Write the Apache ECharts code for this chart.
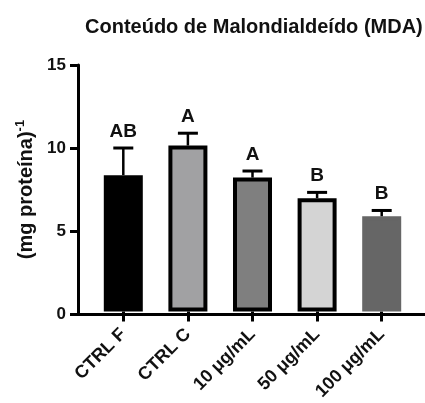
<!DOCTYPE html>
<html>
<head>
<meta charset="utf-8">
<script src="https://cdn.jsdelivr.net/npm/echarts@6/dist/echarts.min.js"></script>
<style>
html,body{margin:0;padding:0;background:#fff;}
#chart{width:425px;height:403px;}
</style>
</head>
<body>
<div id="chart"></div>
<script>
const categories = ['CTRL F', 'CTRL C', '10 \u03bcg/mL', '50 \u03bcg/mL', '100 \u03bcg/mL'];
const means = [8.3, 10.1, 8.15, 6.9, 5.8];
const errors = [1.65, 0.75, 0.4, 0.35, 0.35];
const letters = ['AB', 'A', 'A', 'B', 'B'];
const yTicks = [0, 5, 10, 15];

const fillColors = ['#000000', '#a1a1a3', '#7f7f7f', '#d4d4d4', '#666666'];
const borderColors = ['#000000', '#000000', '#000000', '#000000', '#666666'];
const FONT = 'Liberation Sans, Arial, sans-serif';

const chart = echarts.init(document.getElementById('chart'), null, {renderer: 'canvas'});

const option = {
  animation: false,
  backgroundColor: '#ffffff',
  title: {
    text: 'Conteúdo de Malondialdeído (MDA)',
    left: 80,
    top: 12,
    textStyle: {fontFamily: FONT, fontWeight: 'bold', fontSize: 20, color: '#111'}
  },
  grid: [
    {left: 78, right: 0, top: 65, bottom: 89},
    {left: 91, right: 11, top: 65, bottom: 89}
  ],
  xAxis: [
    {
      gridIndex: 0, type: 'value', min: 0, max: 1,
      axisLine: {show: true, lineStyle: {color: '#000', width: 3}},
      axisTick: {show: false}, axisLabel: {show: false}, splitLine: {show: false}
    },
    {
      gridIndex: 1, type: 'category', data: categories,
      axisLine: {show: false},
      axisTick: {show: true, alignWithLabel: true, length: 10, lineStyle: {color: '#000', width: 3}},
      axisLabel: {rotate: 45, margin: 20, fontFamily: FONT, fontWeight: 'bold', fontSize: 18, color: '#111'},
      splitLine: {show: false}
    }
  ],
  yAxis: [
    {
      gridIndex: 0, type: 'value', min: yTicks[0], max: yTicks[yTicks.length - 1], interval: 5,
      name: '{m|(mg proteína)}{s|-1}',
      nameLocation: 'middle', nameRotate: 90, nameGap: 38,
      nameTextStyle: {
        rich: {
          m: {fontFamily: FONT, fontWeight: 'bold', fontSize: 20, color: '#111'},
          s: {fontFamily: FONT, fontWeight: 'bold', fontSize: 13, color: '#111', padding: [0, 0, 11, 0]}
        }
      },
      axisLine: {show: true, lineStyle: {color: '#000', width: 3}},
      axisTick: {show: true, length: 8, lineStyle: {color: '#000', width: 3}},
      axisLabel: {margin: 12, fontFamily: FONT, fontWeight: 'bold', fontSize: 17, color: '#111'},
      splitLine: {show: false}
    },
    {
      gridIndex: 1, type: 'value', min: yTicks[0], max: yTicks[yTicks.length - 1], interval: 5,
      show: false, splitLine: {show: false}
    }
  ],
  series: [
    {
      type: 'bar', xAxisIndex: 1, yAxisIndex: 1,
      barWidth: 39,
      data: means.map((v, i) => ({
        value: v,
        itemStyle: {color: fillColors[i], borderColor: borderColors[i], borderWidth: 4}
      })),
      z: 2
    },
    {
      type: 'custom', xAxisIndex: 1, yAxisIndex: 1,
      data: means.map((v, i) => [i, v, v + errors[i]]),
      renderItem: function (params, api) {
        const i = api.value(0);
        const base = api.coord([i, api.value(1)]);
        const top = api.coord([i, api.value(2)]);
        const capHalf = 10;
        return {
          type: 'group',
          children: [
            {type: 'line', shape: {x1: base[0], y1: base[1], x2: top[0], y2: top[1]},
             style: {stroke: '#000', lineWidth: 2.5}},
            {type: 'line', shape: {x1: top[0] - capHalf, y1: top[1], x2: top[0] + capHalf, y2: top[1]},
             style: {stroke: '#000', lineWidth: 3}},
            {type: 'text', x: top[0], y: top[1] - 7,
             style: {text: letters[params.dataIndex], fontFamily: FONT, fontWeight: 'bold', fontSize: 19,
                     fill: '#111', align: 'center', verticalAlign: 'bottom'}}
          ]
        };
      },
      z: 3
    }
  ]
};
chart.setOption(option);
</script>
</body>
</html>
